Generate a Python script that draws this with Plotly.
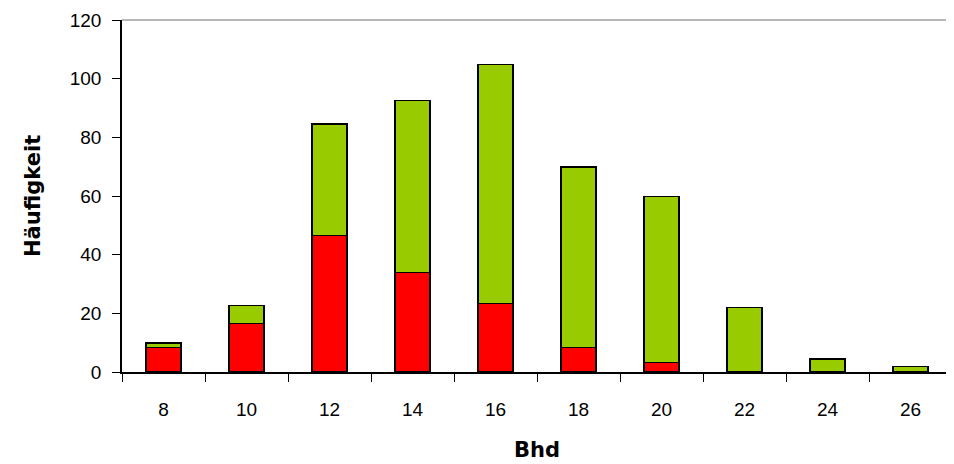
import plotly.graph_objects as go

categories = ["8", "10", "12", "14", "16", "18", "20", "22", "24", "26"]
red_values = [8.4, 16.6, 46.5, 34, 23.3, 8.4, 3.3, 0, 0, 0]
green_values = [1.5, 6.1, 38.1, 58.6, 81.5, 61.5, 56.5, 22, 4.5, 1.8]
y_ticks = [0, 20, 40, 60, 80, 100, 120]

# page body has an 8px margin, so the figure is placed 8px right/down
OFF = 8
W, H = 954 - OFF, 464 - OFF
L, T = 122 - OFF, 20 - OFF
R = 2
plot_bottom = 372 - OFF
B = H - plot_bottom
pw, ph = W - L - R, plot_bottom - T

fig = go.Figure()
fig.add_trace(go.Bar(x=categories, y=red_values, marker=dict(color="#FF0000", line=dict(color="#000000", width=1.5))))
fig.add_trace(go.Bar(x=categories, y=green_values, marker=dict(color="#99CC00", line=dict(color="#000000", width=1.5))))

fig.update_layout(
    width=W, height=H,
    barmode="stack", bargap=0.58,
    showlegend=False,
    plot_bgcolor="white", paper_bgcolor="white",
    margin=dict(l=L, r=R, t=T, b=B, autoexpand=False),
    font=dict(family="Liberation Sans, Arial, sans-serif", size=19, color="black"),
    xaxis=dict(
        type="category", tickson="boundaries", ticks="outside", ticklen=8, tickwidth=1,
        tickcolor="black", showline=True, linecolor="black", linewidth=1.5,
        showgrid=False, tickfont=dict(size=19), automargin=False, ticklabelstandoff=19,
    ),
    yaxis=dict(
        range=[0, 120], tickvals=y_ticks, ticks="outside", ticklen=8, tickwidth=1,
        tickcolor="black", showline=True, linecolor="black", linewidth=1.5,
        showgrid=False, zeroline=False, tickfont=dict(size=19), automargin=False,
        ticklabelstandoff=7,
    ),
    shapes=[
        dict(type="line", xref="paper", yref="paper", x0=0, x1=1, y0=1, y1=1, line=dict(color="#A0A0A0", width=1.5)),
        dict(type="line", xref="paper", yref="paper", x0=1, x1=1, y0=0, y1=1, line=dict(color="#A0A0A0", width=1.5)),
    ],
    annotations=[
        dict(text="<b>Häufigkeit</b>", xref="paper", yref="paper",
             x=(33 - OFF - L) / pw, y=(plot_bottom - (196 - OFF)) / ph,
             xanchor="center", yanchor="middle", textangle=-90, showarrow=False,
             font=dict(family="DejaVu Sans, sans-serif", size=21)),
        dict(text="<b>Bhd</b>", xref="paper", yref="paper",
             x=(537 - OFF - L) / pw, y=(plot_bottom - (450 - OFF)) / ph,
             xanchor="center", yanchor="middle", showarrow=False,
             font=dict(family="DejaVu Sans, sans-serif", size=21)),
    ],
)

fig.write_html("out.html")
